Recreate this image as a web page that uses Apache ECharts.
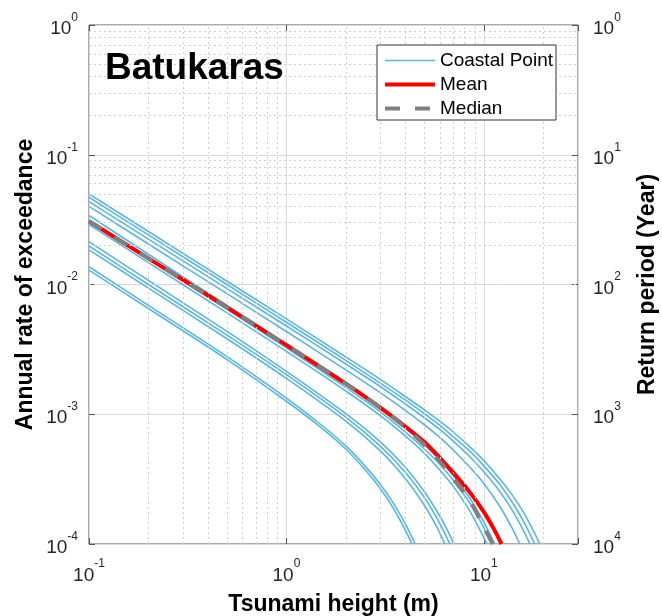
<!DOCTYPE html>
<html>
<head>
<meta charset="utf-8">
<title>Batukaras</title>
<script src="https://cdn.jsdelivr.net/npm/echarts@6/dist/echarts.min.js"></script>
<style>
html,body{margin:0;padding:0;background:#fff;}
#main{width:662px;height:616px;}
</style>
</head>
<body>
<div id="main"></div>
<script>
// tsunami height (m) / annual rate of exceedance
// one list of [height, rate] per coastal point
var coastal = [
	[[0.1,0.050],[0.2,0.0256],[0.5,0.0106],[1,0.00543],[2,0.00276],[3,0.00185],[4,0.00137],[5,0.00108],[6,0.00088],[7,0.00073],[8.5,0.00056],[10,0.00044],[12,0.00032],[14,0.000236],[16,0.000172],[18,0.000123],[19.2,0.0001]],
	[[0.1,0.047],[0.2,0.0241],[0.5,0.0100],[1,0.00512],[2,0.0026],[3,0.00173],[4,0.00129],[5,0.00101],[6,0.00082],[7,0.00067],[8.5,0.00052],[10,0.0004],[12,0.00029],[14,0.000207],[16,0.000147],[18.1,0.0001]],
	[[0.1,0.0435],[0.2,0.0224],[0.5,0.0093],[1,0.00479],[2,0.00244],[3,0.00163],[4,0.0012],[5,0.00094],[6,0.00076],[7,0.00062],[8.5,0.00047],[10,0.00036],[12,0.000256],[14,0.00018],[16,0.000124],[17.1,0.0001]],
	[[0.1,0.040],[0.2,0.0205],[0.5,0.0085],[1,0.00434],[2,0.0022],[3,0.00146],[4,0.00107],[5,0.00083],[6,0.00066],[7,0.00053],[8.5,0.00039],[10,0.000293],[12,0.000197],[14,0.00013],[15.2,0.0001]],
	[[0.1,0.034],[0.2,0.0171],[0.5,0.0069],[1,0.00347],[2,0.00171],[3,0.0011],[4,0.00078],[5,0.00058],[6,0.00044],[7,0.000336],[8.5,0.000225],[10,0.000148],[11.36,0.0001]],
	[[0.1,0.031],[0.2,0.0157],[0.5,0.00644],[1,0.00325],[2,0.00161],[3,0.00104],[4,0.00073],[5,0.00054],[6,0.00041],[7,0.00031],[8.5,0.000206],[10,0.000134],[10.97,0.0001]],
	[[0.1,0.029],[0.2,0.01476],[0.5,0.00604],[1,0.00305],[2,0.00151],[3,0.00097],[4,0.00068],[5,0.0005],[6,0.00037],[7,0.000278],[8.5,0.000179],[10,0.000112],[10.35,0.0001]],
	[[0.1,0.0214],[0.2,0.01076],[0.5,0.00435],[1,0.00214],[2,0.00101],[3,0.00061],[4,0.00039],[5,0.000253],[6,0.000163],[6.6,0.000124],[7.05,0.0001]],
	[[0.1,0.0198],[0.2,0.0100],[0.5,0.00407],[1,0.00202],[2,0.00095],[3,0.000565],[4,0.000357],[5,0.000228],[6,0.000143],[6.73,0.0001]],
	[[0.1,0.0185],[0.2,0.00938],[0.5,0.00382],[1,0.00189],[2,0.000885],[3,0.00052],[4,0.00032],[5,0.000199],[5.8,0.000134],[6.35,0.0001]],
	[[0.1,0.0137],[0.2,0.0069],[0.5,0.00278],[1,0.00133],[1.5,0.00083],[2,0.00057],[2.5,0.0004],[3,0.000286],[3.5,0.000204],[4,0.000143],[4.49,0.0001]],
	[[0.1,0.0129],[0.2,0.00653],[0.5,0.00264],[1,0.00126],[1.5,0.00079],[2,0.00054],[2.5,0.000375],[3,0.000265],[3.5,0.000186],[4,0.000128],[4.33,0.0001]]
];
var meanCurve = [[0.1,0.0308],[0.2,0.0159],[0.5,0.00667],[1,0.00341],[2,0.00172],[3,0.00112],[4,0.000805],[5,0.00061],[6,0.00046],[7,0.000355],[8.5,0.00025],[10,0.000177],[11.2,0.000132],[12.3,0.0001]];
var medianCurve = [[0.1,0.0308],[0.2,0.0159],[0.5,0.00667],[1,0.00341],[2,0.00172],[3,0.00112],[4,0.00079],[5,0.00058],[6,0.00043],[7,0.00032],[8.5,0.000215],[10,0.000135],[11.1,0.0001]];

// axis ranges
var xRange = [0.1, 30];
var yRange = [1e-4, 1];
var periodRange = [1, 1e4];

var FONT = '"Liberation Sans", Arial, sans-serif';
var TXT = '#262626';

// minor grid positions 2..9 inside each decade
var xMinor = [], yMinor = [];
for (var d = -1; d <= 1; d++) {
	for (var k = 2; k <= 9; k++) {
		var v = k * Math.pow(10, d);
		if (v < xRange[1]) xMinor.push({xAxis: v});
	}
}
for (var d = -4; d <= -1; d++) {
	for (var k = 2; k <= 9; k++) {
		yMinor.push({yAxis: k * Math.pow(10, d)});
	}
}

function powLabel(v) {
	var e = Math.log10(v);
	var r = Math.round(e);
	if (Math.abs(e - r) > 1e-6) return '';
	return '{b|10}{s|' + r + '}';
}
var labelRich = {
	b: {fontSize: 19, color: TXT, fontFamily: FONT, padding: [8, 0, 0, 0], verticalAlign: 'bottom'},
	s: {fontSize: 12, color: TXT, fontFamily: FONT, verticalAlign: 'top'}
};
var nameStyle = {fontSize: 23, fontWeight: 'bold', color: '#000', fontFamily: FONT};
var tick = {show: true, inside: true, length: 6, lineStyle: {color: '#555'}};

var series = [];
// dotted minor grid
series.push({
	name: 'grid', type: 'line', data: [], z: 1, silent: true,
	markLine: {
		silent: true, symbol: ['none', 'none'], label: {show: false}, animation: false,
		lineStyle: {color: '#d0d0d0', width: 1, type: [2, 3]},
		emphasis: {disabled: true},
		data: xMinor.concat(yMinor)
	}
});
coastal.forEach(function (d) {
	series.push({
		name: 'Coastal Point', type: 'line', data: d, symbol: 'none', smooth: 0.3, z: 3, silent: true,
		lineStyle: {color: '#5ab6e2', width: 1.6}, itemStyle: {color: '#5ab6e2'}
	});
});
series.push({
	name: 'Mean', type: 'line', data: meanCurve, symbol: 'none', smooth: 0.3, z: 4, silent: true,
	lineStyle: {color: '#ff0000', width: 4}, itemStyle: {color: '#ff0000'}
});
series.push({
	name: 'Median', type: 'line', data: medianCurve, symbol: 'none', smooth: 0.3, z: 5, silent: true,
	lineStyle: {color: '#808080', width: 4, type: [15, 15]}, itemStyle: {color: '#808080'}
});

var myChart = echarts.init(document.getElementById('main'));
var option = {
	animation: false,
	backgroundColor: '#fff',
	title: {
		text: 'Batukaras', left: 105, top: 50, padding: 0,
		textStyle: {fontSize: 37, fontWeight: 'bold', color: '#000', fontFamily: FONT}
	},
	legend: {
		data: ['Coastal Point', 'Mean', 'Median'],
		orient: 'vertical', left: 377, top: 45, z: 10,
		itemWidth: 50, itemHeight: 14, itemGap: 5,
		padding: [6, 3, 2, 6],
		borderColor: '#333', borderWidth: 1, borderRadius: 0, backgroundColor: '#fff',
		selectedMode: false,
		itemStyle: {opacity: 0},
		lineStyle: {width: 'inherit'},
		textStyle: {fontSize: 19, color: '#000', fontFamily: FONT}
	},
	grid: {
		left: 89, right: 84, top: 25, bottom: 72,
		show: true, borderColor: '#555', borderWidth: 1,
		outerBoundsMode: 'none'
	},
	xAxis: [{
		type: 'log', logBase: 10, min: xRange[0], max: xRange[1], position: 'bottom',
		axisLine: {show: false}, axisTick: tick,
		axisLabel: {margin: 14, formatter: powLabel, rich: labelRich},
		splitLine: {show: true, lineStyle: {color: '#dcdcdc', width: 1}},
		name: 'Tsunami height (m)', nameLocation: 'middle', nameGap: 49,
		nameMoveOverlap: false, nameTextStyle: nameStyle
	}, {
		type: 'log', logBase: 10, min: xRange[0], max: xRange[1], position: 'top',
		axisLine: {show: false}, axisTick: tick, axisLabel: {show: false},
		splitLine: {show: false}
	}],
	yAxis: [{
		type: 'log', logBase: 10, min: yRange[0], max: yRange[1], position: 'left',
		axisLine: {show: false}, axisTick: tick,
		axisLabel: {margin: 11, formatter: powLabel, rich: labelRich},
		splitLine: {show: true, lineStyle: {color: '#dcdcdc', width: 1}},
		name: 'Annual rate of exceedance', nameLocation: 'middle', nameRotate: 90, nameGap: 52,
		nameMoveOverlap: false, nameTextStyle: nameStyle
	}, {
		type: 'log', logBase: 10, min: periodRange[0], max: periodRange[1], position: 'right', inverse: true,
		axisLine: {show: false}, axisTick: tick,
		axisLabel: {margin: 15, formatter: powLabel, rich: labelRich},
		splitLine: {show: false},
		name: 'Return period (Year)', nameLocation: 'middle', nameRotate: 90, nameGap: 58,
		nameMoveOverlap: false, nameTextStyle: nameStyle
	}],
	series: series
};
myChart.setOption(option);
</script>
</body>
</html>
